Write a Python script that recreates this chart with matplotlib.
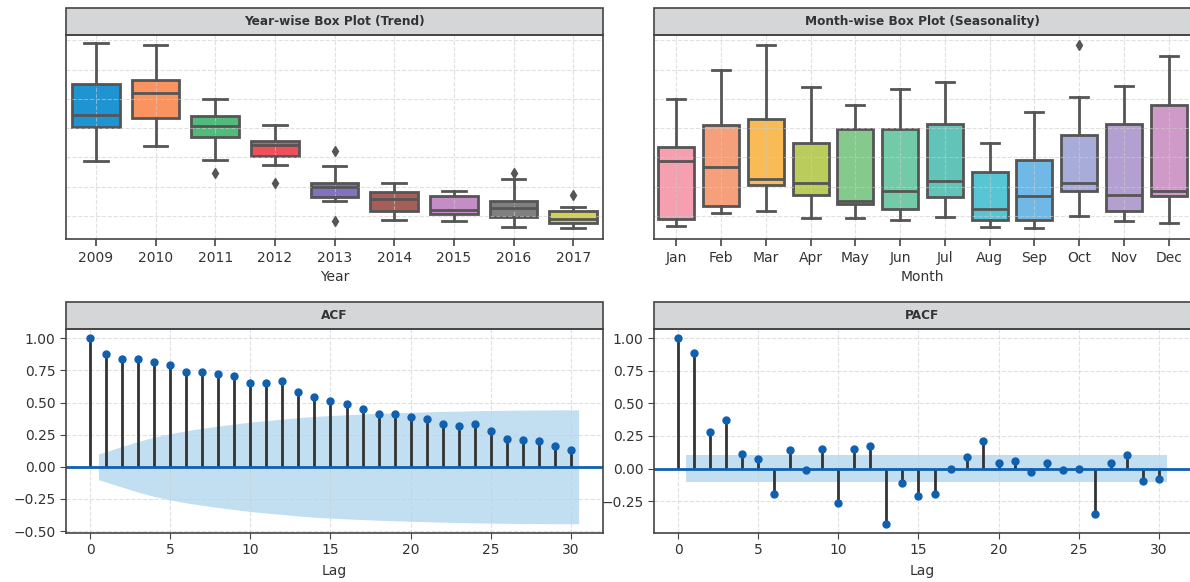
import matplotlib
matplotlib.use("Agg")
import matplotlib.pyplot as plt
from matplotlib.patches import Rectangle

# Box plot statistics (arbitrary units)
years = ['2009', '2010', '2011', '2012', '2013', '2014', '2015', '2016', '2017']
year_lo = [2.87, 3.40, 2.92, 2.74, 1.50, 0.86, 0.83, 0.63, 0.58]
year_q1 = [4.05, 4.35, 3.69, 3.06, 1.66, 1.15, 1.06, 0.96, 0.76]
year_med = [4.45, 5.21, 4.07, 3.42, 1.98, 1.59, 1.21, 1.28, 0.90]
year_q3 = [5.50, 5.64, 4.40, 3.55, 2.12, 1.83, 1.69, 1.50, 1.17]
year_hi = [6.89, 6.84, 4.98, 4.12, 2.70, 2.12, 1.86, 2.25, 1.31]
year_fliers = [[], [], [2.46], [2.14], [3.23, 0.84], [], [], [2.46], [1.72]]
year_colors = ['#1f94d2', '#f99460', '#50bb7a', '#f0505a', '#8272c0',
               '#a85e58', '#c58dc6', '#7f7f7f', '#d4d43c']

months = ['Jan', 'Feb', 'Mar', 'Apr', 'May', 'Jun',
          'Jul', 'Aug', 'Sep', 'Oct', 'Nov', 'Dec']
month_lo = [0.67, 1.11, 1.16, 0.92, 0.92, 0.87, 0.97, 0.62, 0.58, 1.01, 0.82, 0.77]
month_q1 = [0.91, 1.34, 2.05, 1.73, 1.39, 1.24, 1.63, 0.87, 0.87, 1.86, 1.16, 1.68]
month_med = [2.88, 2.68, 2.25, 2.12, 1.50, 1.86, 2.20, 1.25, 1.68, 2.12, 1.73, 1.86]
month_q3 = [3.36, 4.11, 4.31, 3.49, 3.98, 3.98, 4.15, 2.49, 2.91, 3.78, 4.15, 4.78]
month_hi = [4.98, 5.97, 6.84, 5.39, 4.78, 5.35, 5.58, 3.49, 4.54, 5.06, 5.45, 6.45]
month_fliers = [[], [], [], [], [], [], [], [], [], [6.85], [], []]
month_colors = ['#f59fb0', '#f5a07a', '#f8bb55', '#b9cc5c', '#85c98c', '#72caa8',
                '#62c4b8', '#58c5d4', '#70b8e6', '#a8acd8', '#b3a0d0', '#d09ac8']

# Autocorrelation values
lags = list(range(31))
acf_vals = [1.00, 0.88, 0.835, 0.835, 0.815, 0.79, 0.735, 0.735, 0.725, 0.705,
            0.65, 0.65, 0.67, 0.58, 0.54, 0.515, 0.485, 0.45, 0.41, 0.41,
            0.385, 0.375, 0.33, 0.32, 0.33, 0.275, 0.22, 0.21, 0.20, 0.165, 0.13]
acf_conf = [0.100, 0.159, 0.198, 0.231, 0.258, 0.281, 0.300, 0.317, 0.333, 0.348,
            0.360, 0.371, 0.383, 0.392, 0.399, 0.405, 0.411, 0.416, 0.420, 0.424,
            0.427, 0.431, 0.433, 0.436, 0.438, 0.440, 0.441, 0.442, 0.443, 0.443]
pacf_vals = [1.00, 0.89, 0.28, 0.375, 0.115, 0.072, -0.198, 0.14, -0.013, 0.15,
             -0.262, 0.15, 0.17, -0.424, -0.11, -0.208, -0.198, 0.0, 0.085, 0.213,
             0.041, 0.054, -0.023, 0.041, -0.013, 0.0, -0.347, 0.041, 0.105, -0.098, -0.077]
pacf_conf = [0.10] * 30

EDGE = '#555555'
DARK_BLUE = '#1060b0'
BAND = '#c2dff2'


def title_bar(ax, text):
    ax.add_patch(Rectangle((0, 1), 1, 0.13, transform=ax.transAxes, clip_on=False,
                           facecolor='#d5d6d8', edgecolor='#444444', linewidth=1.2))
    ax.text(0.5, 1.065, text, transform=ax.transAxes, ha='center', va='center',
            fontsize=8.7, fontweight='bold', color='#333333')


def style_axes(ax):
    for s in ax.spines.values():
        s.set_color('#444444')
        s.set_linewidth(1.2)
    ax.grid(True, linestyle='--', color='#cccccc', linewidth=0.8, alpha=0.6)
    ax.tick_params(colors='#444444', labelcolor='#333333', labelsize=10, length=4)


def box_panel(ax, labels, lo, q1, med, q3, hi, fliers, colors, xlabel, title):
    stats = []
    for i in range(len(labels)):
        stats.append({'whislo': lo[i], 'q1': q1[i], 'med': med[i], 'q3': q3[i],
                      'whishi': hi[i], 'fliers': fliers[i]})
    pos = list(range(len(labels)))
    res = ax.bxp(stats, positions=pos, widths=0.8, patch_artist=True,
                 boxprops=dict(edgecolor=EDGE, linewidth=2),
                 medianprops=dict(color=EDGE, linewidth=2),
                 whiskerprops=dict(color=EDGE, linewidth=2),
                 capprops=dict(color=EDGE, linewidth=2),
                 flierprops=dict(marker='d', markerfacecolor=EDGE,
                                 markeredgecolor=EDGE, markersize=5))
    for patch, c in zip(res['boxes'], colors):
        patch.set_facecolor(c)
        patch.set_zorder(1)
    ax.set_xlim(-0.5, len(labels) - 0.5)
    ax.set_ylim(0.21, 7.18)
    ax.set_xticks(pos)
    ax.set_xticklabels(labels)
    ax.set_yticks([1, 2, 3, 4, 5, 6, 7])
    ax.set_yticklabels([])
    style_axes(ax)
    ax.tick_params(axis='y', length=0)
    ax.tick_params(axis='x', length=5, width=1.2)
    ax.set_xlabel(xlabel, fontsize=10, color='#333333', labelpad=4)
    title_bar(ax, title)


def corr_panel(ax, vals, conf, title):
    ax.vlines(lags, 0, vals, colors='#333333', linewidth=2)
    ax.plot(lags, vals, 'o', color=DARK_BLUE, markersize=5)
    ax.axhline(0, color=DARK_BLUE, linewidth=2)
    band_x = [float(l) for l in lags[1:]]
    band_x[0] -= 0.5
    band_x[-1] += 0.5
    ax.fill_between(band_x, [-c for c in conf], conf, color=BAND, linewidth=0, zorder=1)
    style_axes(ax)
    ax.set_xlabel('Lag', fontsize=10, color='#333333', labelpad=5)
    title_bar(ax, title)


fig = plt.figure(figsize=(11.9, 5.82), dpi=100)
W = 537 / 1190
H = 204 / 582
ax1 = fig.add_axes([66 / 1190, 1 - 239 / 582, W, H])
ax2 = fig.add_axes([654 / 1190, 1 - 239 / 582, W, H])
ax3 = fig.add_axes([66 / 1190, 1 - 533 / 582, W, H])
ax4 = fig.add_axes([654 / 1190, 1 - 533 / 582, W, H])

box_panel(ax1, years, year_lo, year_q1, year_med, year_q3, year_hi, year_fliers,
          year_colors, 'Year', 'Year-wise Box Plot (Trend)')
box_panel(ax2, months, month_lo, month_q1, month_med, month_q3, month_hi, month_fliers,
          month_colors, 'Month', 'Month-wise Box Plot (Seasonality)')
corr_panel(ax3, acf_vals, acf_conf, 'ACF')
corr_panel(ax4, pacf_vals, pacf_conf, 'PACF')

fig.savefig('out.png', dpi=100)
